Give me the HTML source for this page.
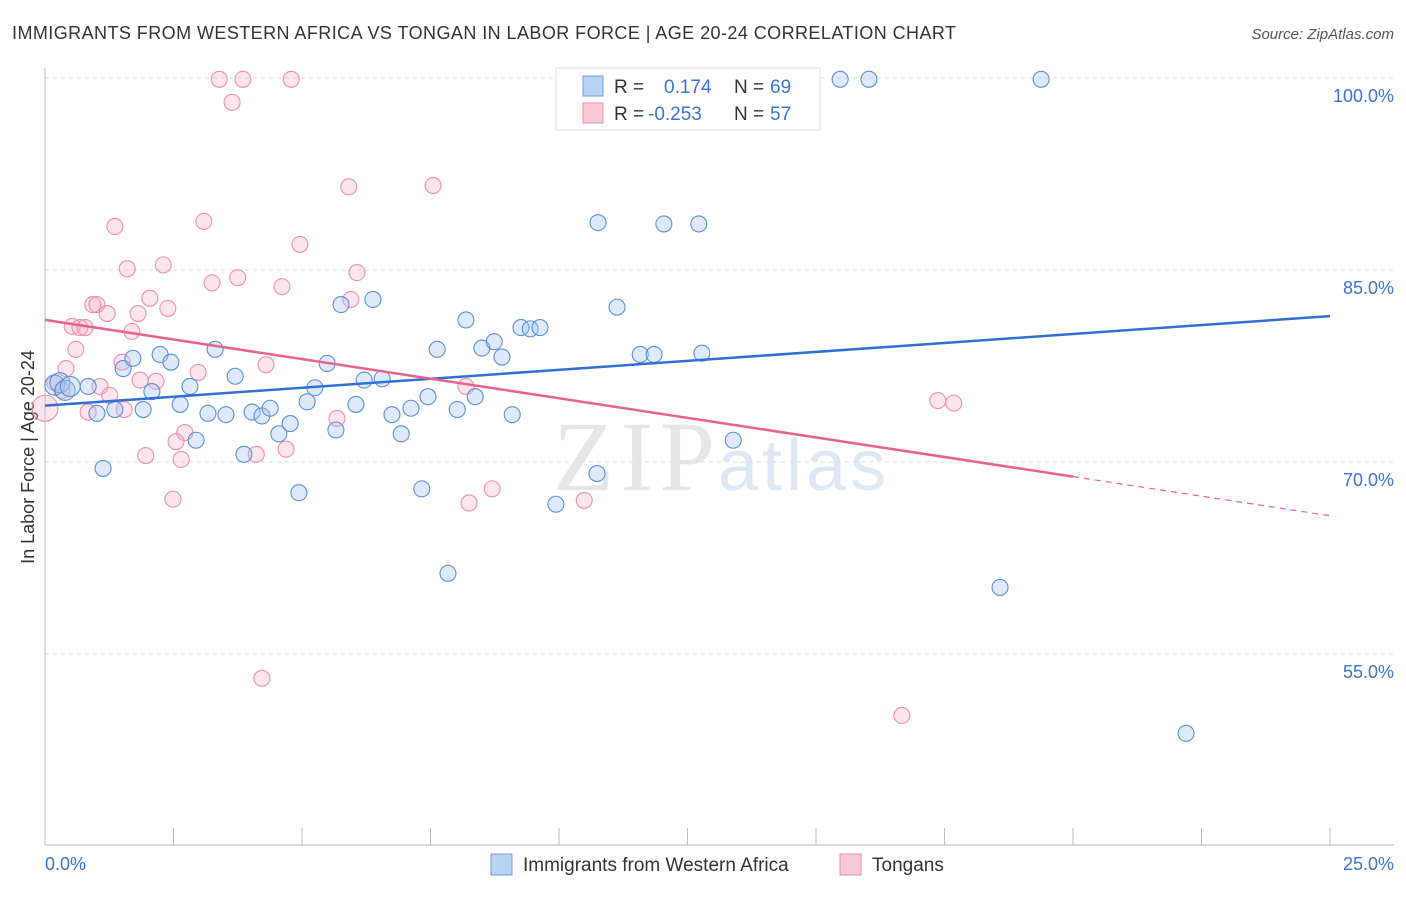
<!DOCTYPE html>
<html><head><meta charset="utf-8"><style>
body{margin:0;background:#fff;font-family:"Liberation Sans",sans-serif;}
svg text{font-family:"Liberation Sans",sans-serif;}
</style></head><body>
<svg id="c" width="1406" height="892" viewBox="0 0 1406 892">
<text x="12" y="39" font-size="18" fill="#333" textLength="944">IMMIGRANTS FROM WESTERN AFRICA VS TONGAN IN LABOR FORCE | AGE 20-24 CORRELATION CHART</text>
<text x="1394" y="39" font-size="15" fill="#555" text-anchor="end" font-style="italic">Source: ZipAtlas.com</text>
<text x="553" y="490" font-size="100" fill="#e6e6e6" style="font-family:'Liberation Serif',serif" textLength="162">ZIP</text>
<text x="718" y="490" font-size="72" fill="#dde8f5" textLength="168">atlas</text>
<text transform="translate(34,457) rotate(-90)" font-size="18" fill="#333" text-anchor="middle">In Labor Force | Age 20-24</text>
<g id="grid"></g><g id="pts"></g><g id="lines"></g>
<g>
<rect x="556" y="68" width="264" height="62" fill="#fff" stroke="#ddd"/>
<rect x="583" y="76" width="20" height="20" fill="#b9d3f3" stroke="#6e9ee0"/>
<rect x="583" y="103" width="20" height="20" fill="#f9c9d6" stroke="#e98aa6"/>
<text x="614" y="93" font-size="19" fill="#333">R = </text><text x="664" y="93" font-size="19" fill="#3b73d1">0.174</text>
<text x="734" y="93" font-size="19" fill="#333">N = </text><text x="770" y="93" font-size="19" fill="#3b73d1">69</text>
<text x="614" y="120" font-size="19" fill="#333">R = </text><text x="648" y="120" font-size="19" fill="#3b73d1">-0.253</text>
<text x="734" y="120" font-size="19" fill="#333">N = </text><text x="770" y="120" font-size="19" fill="#3b73d1">57</text>
</g>
<g>
<rect x="491" y="854" width="21" height="21" fill="#b9d3f3" stroke="#6e9ee0"/>
<text x="523" y="871" font-size="19" fill="#333">Immigrants from Western Africa</text>
<rect x="840" y="854" width="21" height="21" fill="#f9c9d6" stroke="#e98aa6"/>
<text x="872" y="871" font-size="19" fill="#333">Tongans</text>
</g>
<text x="45" y="870" font-size="18" fill="#3b73d1">0.0%</text>
<text x="1394" y="870" font-size="18" fill="#3b73d1" text-anchor="end">25.0%</text>
</svg>
<script>
const yTicks=[100,85,70,55];
const xTickVals=[0,2.5,5,7.5,10,12.5,15,17.5,20,22.5,25];
const blueX=[0.19,0.29,0.39,0.49,0.84,1.01,1.13,1.36,1.52,1.71,1.91,2.08,2.24,2.45,2.63,2.82,2.94,3.17,3.31,3.52,3.70,3.87,4.03,4.22,4.38,4.55,4.77,4.94,5.10,5.25,5.49,5.66,5.76,6.05,6.21,6.38,6.56,6.75,6.93,7.12,7.33,7.45,7.63,7.84,8.02,8.19,8.37,8.50,8.74,8.89,9.09,9.26,9.44,9.63,9.94,10.74,10.76,11.13,11.58,11.85,12.04,12.72,12.78,13.39,15.47,16.03,18.58,19.38,22.20];
const blueY=[76.0,76.2,75.6,75.9,75.9,73.8,69.5,74.1,77.3,78.1,74.1,75.5,78.4,77.8,74.5,75.9,71.7,73.8,78.8,73.7,76.7,70.6,73.9,73.6,74.2,72.2,73.0,67.6,74.7,75.8,77.7,72.5,82.3,74.5,76.4,82.7,76.5,73.7,72.2,74.2,67.9,75.1,78.8,61.3,74.1,81.1,75.1,78.9,79.4,78.2,73.7,80.5,80.4,80.5,66.7,69.1,88.7,82.1,78.4,78.4,88.6,88.6,78.5,71.7,99.9,99.9,60.2,99.9,48.8];
const pinkX=[0,0.19,0.33,0.41,0.53,0.60,0.68,0.78,0.84,0.93,1.01,1.07,1.21,1.26,1.36,1.50,1.54,1.60,1.69,1.81,1.85,1.96,2.04,2.16,2.30,2.39,2.49,2.55,2.65,2.72,2.98,3.09,3.25,3.39,3.64,3.75,3.85,4.11,4.30,4.61,4.69,4.79,4.96,5.68,5.91,5.95,6.07,4.22,7.55,8.19,8.25,8.70,10.49,17.37,17.68,16.67];
const pinkY=[74.2,76.2,75.6,77.3,80.6,78.8,80.5,80.5,73.9,82.3,82.3,75.9,81.6,75.2,88.4,77.8,74.1,85.1,80.2,81.6,76.4,70.5,82.8,76.3,85.4,82.0,67.1,71.6,70.2,72.3,77.0,88.8,84.0,99.9,98.1,84.4,99.9,70.6,77.6,83.7,71.0,99.9,87.0,73.4,91.5,82.7,84.8,53.1,91.6,75.9,66.8,67.9,67.0,74.8,74.6,50.2];
const blueTrend=[74.4,81.4];
const pinkTrend=[81.1,65.8];
const NS="http://www.w3.org/2000/svg";
const X=v=>45+v/25*1285, Y=v=>78+(100-v)*12.8;
function mk(t,a,p){const e=document.createElementNS(NS,t);for(const k in a)e.setAttribute(k,a[k]);p.appendChild(e);return e;}
const g=document.getElementById('grid');
yTicks.forEach(t=>{
 const l=mk('line',{x1:45,x2:1394,y1:Y(t),y2:Y(t),stroke:'#ddd','stroke-dasharray':'4,4'},g);
 
 
 const tx=mk('text',{x:1394,y:Y(t)+24,'font-size':18,fill:'#3b73d1','text-anchor':'end'},g);tx.textContent=t.toFixed(1)+'%';
 
 
});
mk('line',{x1:45,x2:45,y1:68,y2:845,stroke:'#bbb'},g);
mk('line',{x1:45,x2:1394,y1:845,y2:845,stroke:'#bbb'},g);
xTickVals.forEach(t=>{const l=mk('line',{x1:X(t),x2:X(t),y1:828,y2:845,stroke:'#bbb'},g);
 
 });
const p=document.getElementById('pts');
pinkX.forEach((x,i)=>{const c=mk('circle',{cx:X(x),cy:Y(pinkY[i]),r:i==0?13:8,fill:'rgba(245,170,195,0.3)',stroke:'#ec8fab','stroke-width':1.1},p);
 
 });
blueX.forEach((x,i)=>{const c=mk('circle',{cx:X(x),cy:Y(blueY[i]),r:i<4?10:8,fill:'rgba(160,195,240,0.35)',stroke:'#5b8fd9','stroke-width':1.1},p);
 
 });
const L=document.getElementById('lines');
const b=mk('line',{x1:X(0),y1:Y(blueTrend[0]),x2:X(25),y2:Y(blueTrend[1]),stroke:'#2f6fd6','stroke-width':2.5},L);


const pm=pinkTrend[0]+(pinkTrend[1]-pinkTrend[0])*0.8;
const pk=mk('line',{x1:X(0),y1:Y(pinkTrend[0]),x2:X(20),y2:Y(pm),stroke:'#e8628e','stroke-width':2.5},L);


const pd=mk('line',{x1:X(20),y1:Y(pm),x2:X(25),y2:Y(pinkTrend[1]),stroke:'#e8628e','stroke-width':1.2,'stroke-dasharray':'6,5'},L);


</script>
</body></html>
